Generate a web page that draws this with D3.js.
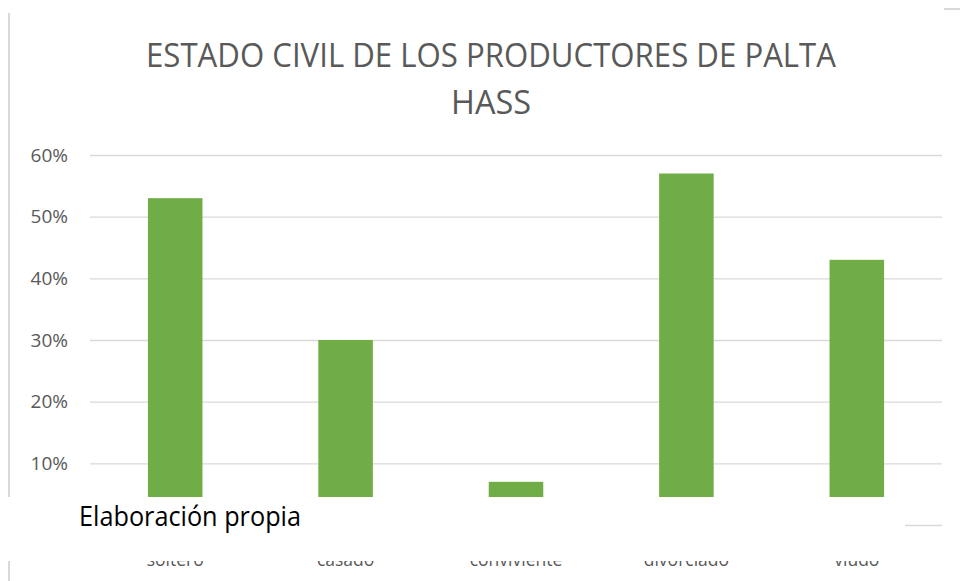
<!DOCTYPE html>
<html>
<head>
<meta charset="utf-8">
<script src="https://cdn.jsdelivr.net/npm/d3@7"></script>
<style>
  body { margin: 0; background: #fff; }
  text { font-family: "Open Sans", sans-serif; }
</style>
</head>
<body>
<div id="chart"></div>
<script>
// chart data
var categories = ["soltero", "casado", "conviviente", "divorciado", "viudo"];
var values = [0.53, 0.30, 0.07, 0.57, 0.43];
var yTicks = [0, 0.1, 0.2, 0.3, 0.4, 0.5, 0.6];
var titleLines = ["ESTADO CIVIL DE LOS PRODUCTORES DE PALTA", "HASS"];
var sourceNote = "Elaboración propia";

var W = 960, H = 581;
var margin = {top: 155, right: 18, bottom: 56, left: 90},
    width = W - margin.left - margin.right,
    height = H - margin.top - margin.bottom;

var x = d3.scaleBand()
    .domain(categories)
    .range([0, width])
    .paddingInner(0.68)
    .paddingOuter(0.34);
var y = d3.scaleLinear()
    .domain([0, 0.6])
    .range([height, 0]);

var svg = d3.select("#chart").append("svg")
    .attr("width", W)
    .attr("height", H);

// chart border pieces
svg.append("line")
    .attr("x1", 9).attr("x2", 9)
    .attr("y1", 13).attr("y2", H)
    .style("stroke", "#d9d9d9").style("stroke-width", 2);
svg.append("line")
    .attr("x1", 944).attr("x2", W)
    .attr("y1", 9).attr("y2", 9)
    .style("stroke", "#d9d9d9").style("stroke-width", 2);

// title
svg.selectAll(".title")
    .data(titleLines)
    .enter().append("text")
    .attr("class", "title")
    .attr("x", 491)
    .attr("y", function(d, i) { return 67 + i * 47; })
    .attr("text-anchor", "middle")
    .attr("textLength", function(d, i) { return i === 0 ? 690 : 80; })
    .attr("lengthAdjust", "spacingAndGlyphs")
    .style("font-size", "32px")
    .style("font-weight", 400)
    .style("fill", "#595959")
    .text(function(d) { return d; });

var g = svg.append("g")
    .attr("transform", "translate(" + margin.left + "," + margin.top + ")");

// gridlines + y labels
var yAxis = g.append("g")
    .call(d3.axisLeft(y)
        .tickValues(yTicks)
        .tickSize(-width)
        .tickPadding(22)
        .tickFormat(d3.format(".0%")));
yAxis.select(".domain").remove();
yAxis.selectAll("line").style("stroke", "#d9d9d9").style("stroke-width", 1.3);
yAxis.selectAll("text")
    .style("font-size", "19px")
    .style("fill", "#595959");

// x labels
var xAxis = g.append("g")
    .attr("transform", "translate(0," + height + ")")
    .call(d3.axisBottom(x).tickSize(0).tickPadding(29));
xAxis.select(".domain").remove();
xAxis.selectAll("text")
    .style("font-size", "17.5px")
    .style("fill", "#595959");

// bars
g.selectAll(".bar")
    .data(values)
    .enter().append("rect")
    .attr("class", "bar")
    .attr("x", function(d, i) { return x(categories[i]); })
    .attr("width", x.bandwidth())
    .attr("y", function(d) { return y(d); })
    .attr("height", function(d) { return height - y(d); })
    .style("fill", "#70ad47");

// white box pasted over the bottom of the chart
svg.append("rect")
    .attr("x", 0).attr("y", 497)
    .attr("width", 905).attr("height", 64)
    .style("fill", "#fff");

svg.append("text")
    .attr("x", 79)
    .attr("y", 526)
    .attr("textLength", 222)
    .attr("lengthAdjust", "spacingAndGlyphs")
    .style("font-size", "27px")
    .style("fill", "#000")
    .text(sourceNote);
</script>
</body>
</html>
